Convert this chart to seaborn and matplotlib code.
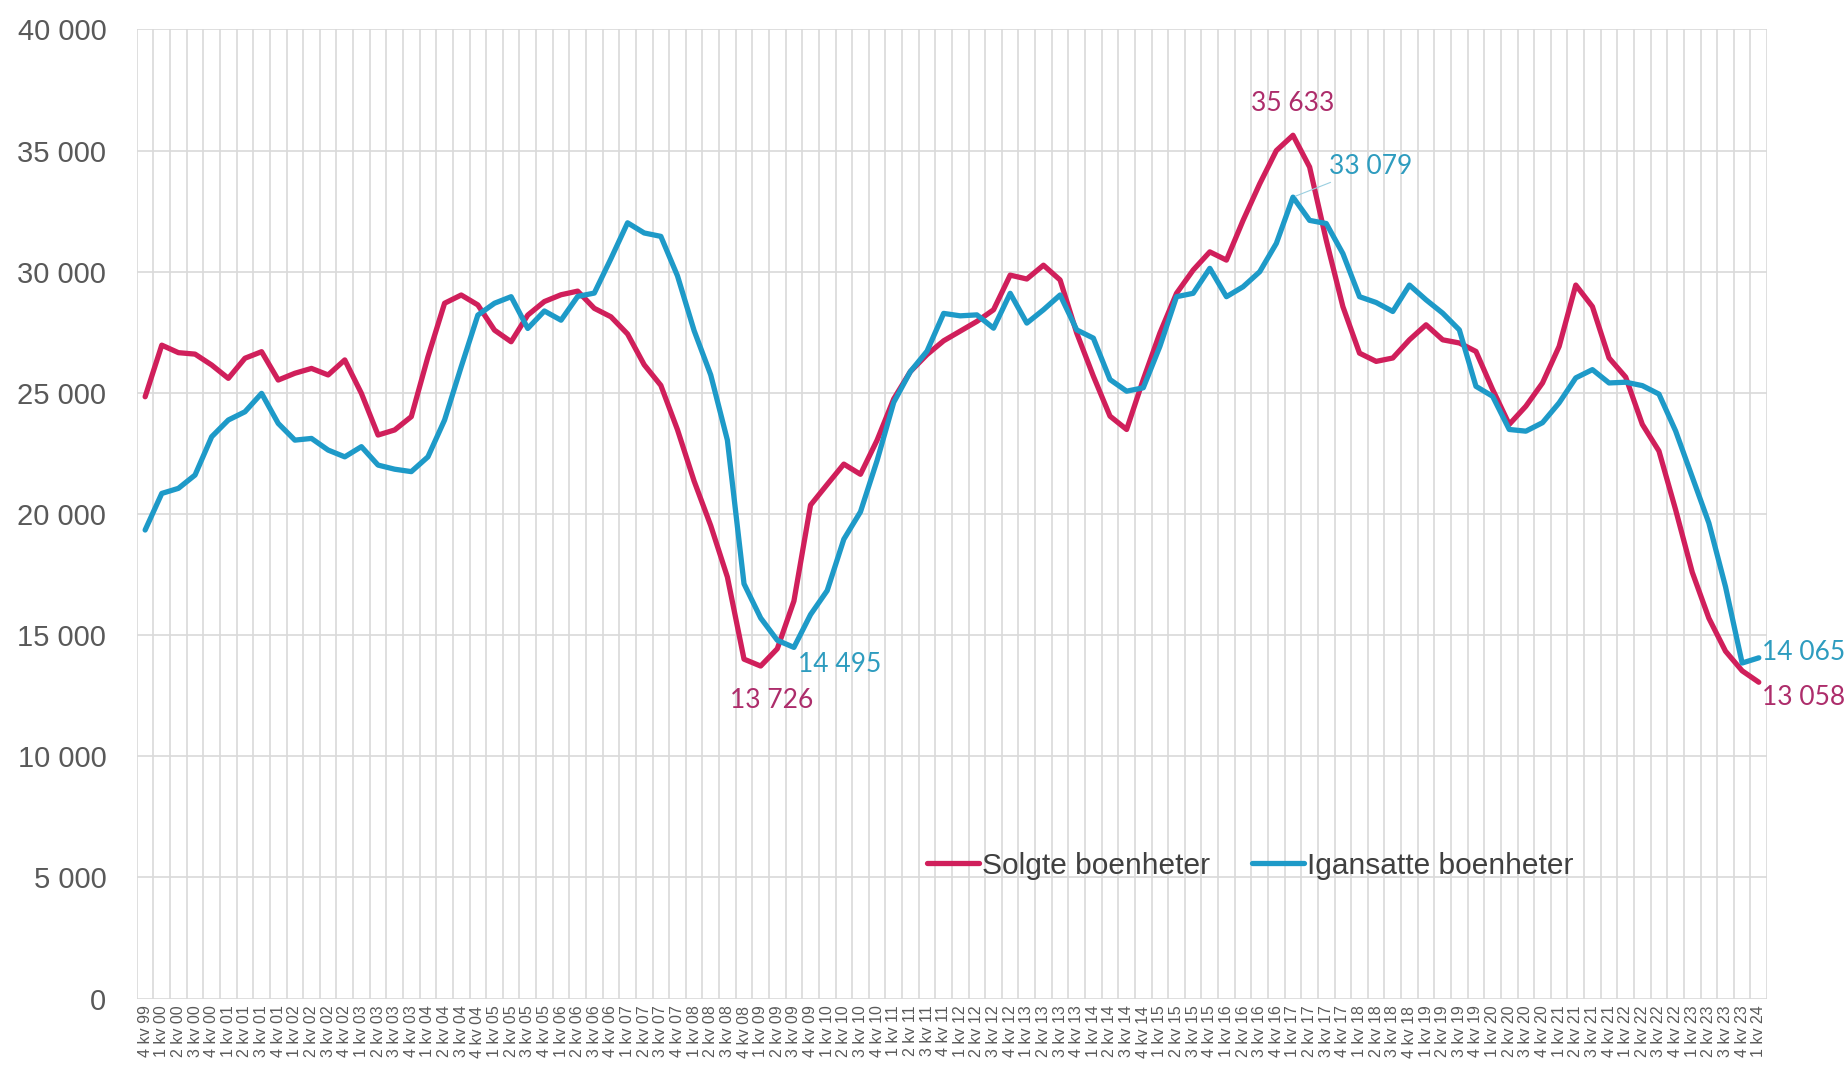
import numpy as np
import pandas as pd
import matplotlib
matplotlib.use("Agg")
import matplotlib.pyplot as plt
import seaborn as sns
from matplotlib.ticker import FuncFormatter, MultipleLocator, FixedLocator

# quarters from 4 kv 99 to 1 kv 24
quarters = [(4, 1999)] + [(q, y) for y in range(2000, 2024) for q in (1, 2, 3, 4)] + [(1, 2024)]
labels = [f"{q} kv {y % 100:02d}" for q, y in quarters]

solgte = [24840, 26970, 26660, 26600, 26150, 25600, 26430, 26700, 25530, 25810,
          26010, 25740, 26360, 24980, 23260, 23470, 24020, 26490, 28700, 29040,
          28630, 27590, 27110, 28210, 28770, 29050, 29200, 28490, 28140, 27430,
          26160, 25310, 23480, 21360, 19520, 17400, 14010, 13726, 14440, 16410,
          20370, 21220, 22060, 21640, 23050, 24750, 25880, 26580, 27150, 27550,
          27950, 28430, 29860, 29700, 30270, 29660, 27470, 25690, 24040, 23490,
          25550, 27470, 29110, 30070, 30820, 30480, 32120, 33630, 35000, 35633,
          34320, 31300, 28560, 26640, 26300, 26440, 27190, 27810, 27190, 27060,
          26710, 25140, 23700, 24450, 25410, 26920, 29450, 28560, 26440, 25650,
          23700, 22600, 20180, 17600, 15700, 14340, 13530, 13058]

igangsatte = [19340, 20850, 21060, 21610, 23190, 23880, 24220, 24980, 23740, 23050,
              23120, 22640, 22360, 22780, 22020, 21850, 21750, 22360, 23880, 26080,
              28210, 28700, 28970, 27660, 28380, 28000, 28980, 29120, 30540, 32020,
              31600, 31460, 29830, 27570, 25740, 23050, 17120, 15710, 14790, 14495,
              15850, 16840, 18960, 20090, 22210, 24610, 25880, 26720, 28280, 28180,
              28220, 27670, 29110, 27880, 28430, 29040, 27600, 27260, 25550, 25070,
              25210, 26920, 28970, 29110, 30140, 28970, 29380, 30000, 31170, 33079,
              32120, 31990, 30750, 28970, 28730, 28360, 29450, 28840, 28290, 27600,
              25270, 24860, 23490, 23420, 23770, 24590, 25620, 25960, 25410, 25440,
              25300, 24950, 23430, 21530, 19630, 17000, 13850, 14065]

series_names = ["Solgte boenheter", "Igansatte boenheter"]
red = "#D01F5B"
blue = "#1E9AC8"
red_txt = "#AD2D6B"
blue_txt = "#2E9CBF"

n = len(labels)
df = pd.DataFrame({
    "idx": list(range(n)) * 2,
    "verdi": solgte + igangsatte,
    "serie": [series_names[0]] * n + [series_names[1]] * n,
})

sns.set_style("white")
plt.rcParams["font.family"] = ["Liberation Sans", "DejaVu Sans"]

fig = plt.figure(figsize=(18.49, 10.71), dpi=100)
ax = fig.add_axes([0.074, 0.0676, 0.8817, 0.9049])

sns.lineplot(data=df, x="idx", y="verdi", hue="serie", palette=[red, blue],
             linewidth=3.8, sort=False, ax=ax, legend=False)
for line in ax.get_lines():
    line.set_solid_joinstyle("round")
    line.set_solid_capstyle("round")

ax.set_xlim(-0.5, n - 0.5)
ax.set_ylim(0, 40000)
ax.yaxis.set_major_locator(MultipleLocator(5000))
ax.yaxis.set_major_formatter(FuncFormatter(lambda v, p: f"{int(v):,}".replace(",", " ")))
ax.set_xticks(range(n))
ax.set_xticklabels(labels, rotation=90, fontsize=11.5, color="#595959")
ax.xaxis.set_minor_locator(FixedLocator(np.arange(-0.5, n, 1.0)))
ax.tick_params(axis="y", labelsize=21, colors="#595959", length=0, pad=22)
ax.tick_params(axis="x", which="both", length=0, pad=5)
ax.grid(True, axis="y", which="major", color="#D9D9D9", linewidth=1.2)
ax.grid(True, axis="x", which="minor", color="#D9D9D9", linewidth=1.2)
ax.grid(False, axis="x", which="major")
ax.set_axisbelow(True)
for s in ax.spines.values():
    s.set_visible(False)
ax.set_xlabel("")
ax.set_ylabel("")

# legend
handles = [plt.Line2D([], [], color=red, linewidth=3.8),
           plt.Line2D([], [], color=blue, linewidth=3.8)]
leg = ax.legend(handles, series_names, loc="center", bbox_to_anchor=(0.683, 0.137),
                ncol=2, frameon=False, fontsize=21.5, handlelength=1.75,
                handletextpad=0.1, columnspacing=1.4)
for t in leg.get_texts():
    t.set_color("#404040")

# data labels
lab_font = dict(fontsize=19, family=["Lato", "DejaVu Sans"])
i_max = int(np.argmax(solgte))
ax.annotate("35 633", (i_max, solgte[i_max]), xytext=(0, 14), textcoords="offset points",
            ha="center", va="bottom", color=red_txt, **lab_font)
j_max = int(np.argmax(igangsatte))
ax.annotate("33 079", (j_max, igangsatte[j_max]), xytext=(26, 22), textcoords="offset points",
            ha="left", va="center", color=blue_txt,
            arrowprops=dict(arrowstyle="-", color="#9ACFE0", linewidth=0.8, shrinkA=0, shrinkB=2),
            **lab_font)
i_min = int(np.argmin(solgte[:60]))
ax.annotate("13 726", (i_min, solgte[i_min]), xytext=(8, -16), textcoords="offset points",
            ha="center", va="top", color=red_txt, **lab_font)
j_min = int(np.argmin(igangsatte[:60]))
ax.annotate("14 495", (j_min, igangsatte[j_min]), xytext=(3, -3), textcoords="offset points",
            ha="left", va="top", color=blue_txt, **lab_font)
ax.annotate("14 065", (n - 1, igangsatte[-1]), xytext=(2, 4), textcoords="offset points",
            ha="left", va="center", color=blue_txt, annotation_clip=False, **lab_font)
ax.annotate("13 058", (n - 1, solgte[-1]), xytext=(2, -11), textcoords="offset points",
            ha="left", va="center", color=red_txt, annotation_clip=False, **lab_font)

fig.savefig("out.png", dpi=100)
